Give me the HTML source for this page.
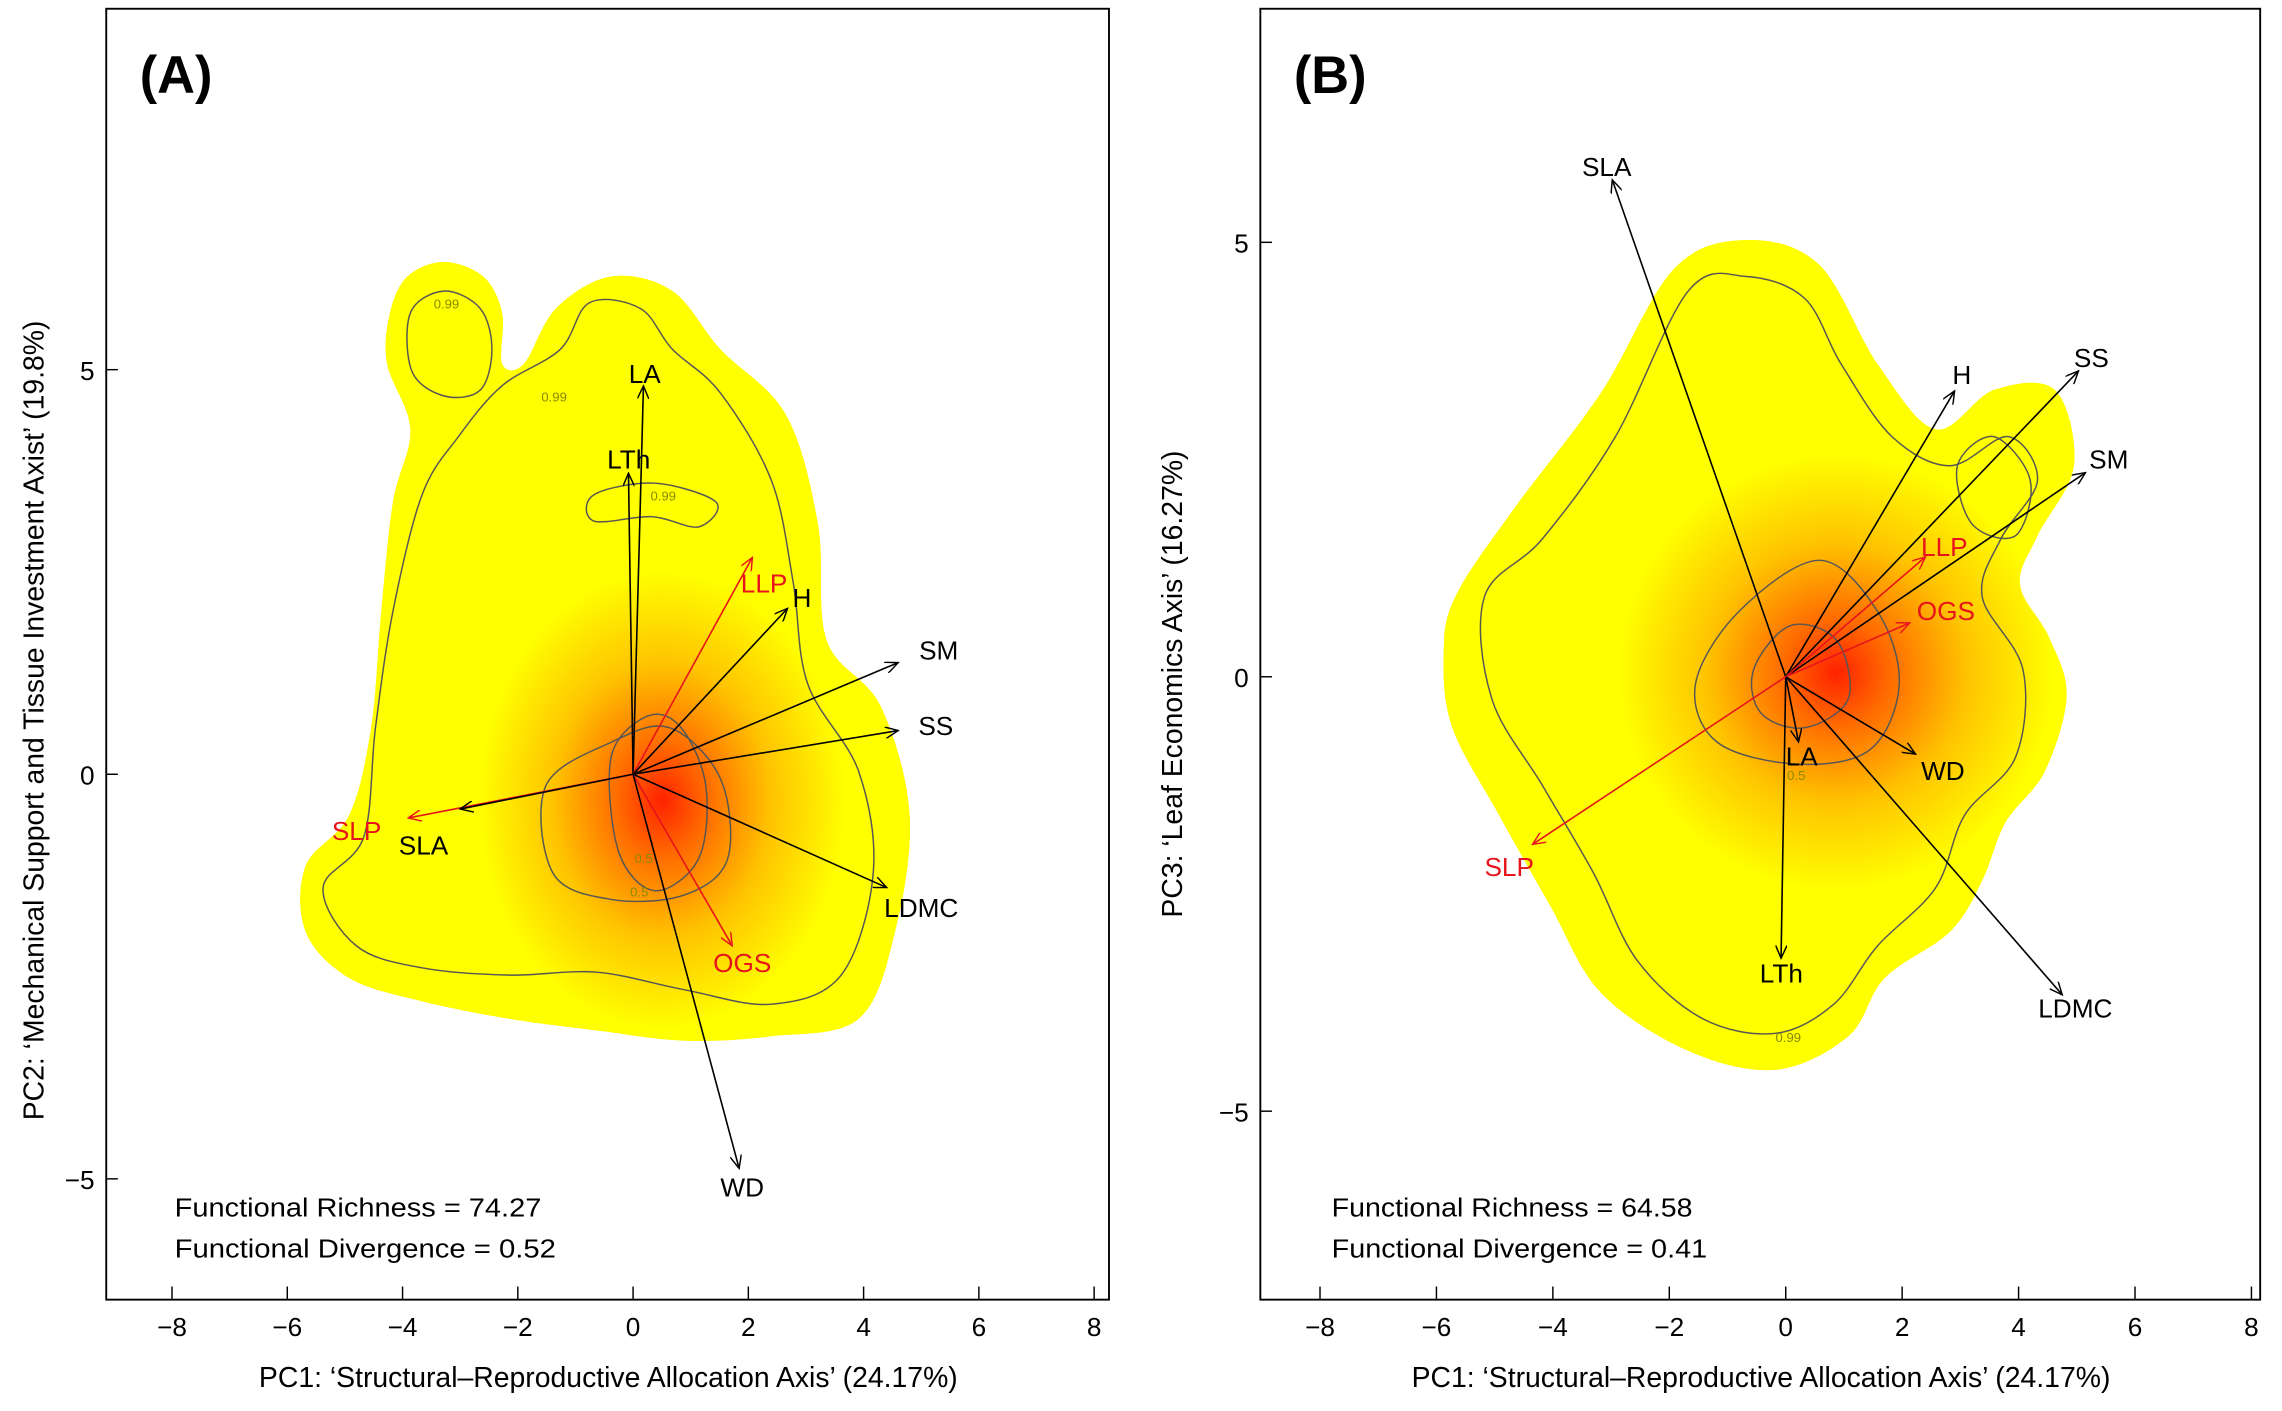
<!DOCTYPE html>
<html><head><meta charset="utf-8"><style>
html,body{margin:0;padding:0;background:#fff;}
svg{display:block;font-family:"Liberation Sans",sans-serif;}
</style></head><body>
<svg id="fig" width="2282" height="1411" viewBox="0 0 1568 969.5" xmlns="http://www.w3.org/2000/svg">
<defs>
<radialGradient id="heatA" cx="455" cy="550" r="210" gradientUnits="userSpaceOnUse" gradientTransform="translate(455 550) scale(0.8 1) translate(-455 -550)">
<stop offset="0" stop-color="#ff2200"/><stop offset="0.18" stop-color="#ff6a00"/><stop offset="0.45" stop-color="#ffc400"/><stop offset="0.75" stop-color="#ffff00"/><stop offset="1" stop-color="#ffff00"/>
</radialGradient>
<radialGradient id="heatB" cx="1262" cy="462" r="200" gradientUnits="userSpaceOnUse">
<stop offset="0" stop-color="#ff2200"/><stop offset="0.18" stop-color="#ff6a00"/><stop offset="0.45" stop-color="#ffc400"/><stop offset="0.75" stop-color="#ffff00"/><stop offset="1" stop-color="#ffff00"/>
</radialGradient>
<marker id="ahK" markerWidth="10" markerHeight="8" refX="9" refY="4" orient="auto" markerUnits="userSpaceOnUse"><path d="M0,0 L9,4 L0,8" fill="none" stroke="#000" stroke-width="1"/></marker>
<marker id="ahR" markerWidth="10" markerHeight="8" refX="9" refY="4" orient="auto" markerUnits="userSpaceOnUse"><path d="M0,0 L9,4 L0,8" fill="none" stroke="#e8141c" stroke-width="1"/></marker>
</defs>
<g id="root"></g>
</svg>
<script>
// Panel A data (PC1 vs PC2)
const traitsA = ["LA","LTh","LLP","H","SM","SS","SLP","SLA","LDMC","OGS","WD"];
const pc1A = [0.18,-0.08,2.07,2.68,4.6,4.6,-3.9,-3.0,4.4,1.72,1.84];
const pc2A = [4.8,3.72,2.68,2.05,1.38,0.54,-0.54,-0.43,-1.4,-2.12,-4.87];
const responseA = [0,0,1,0,0,0,1,0,0,1,0];
// Panel B data (PC1 vs PC3)
const traitsB = ["SLA","H","SS","SM","LLP","OGS","WD","LA","LTh","LDMC","SLP"];
const pc1B = [-2.98,2.9,5.03,5.15,2.4,2.13,2.23,0.22,-0.08,4.75,-4.35];
const pc3B = [5.72,3.29,3.52,2.35,1.38,0.62,-0.89,-0.75,-3.24,-3.66,-1.93];
const responseB = [0,0,0,0,1,1,0,0,0,0,1];
const xTicks = [-8,-6,-4,-2,0,2,4,6,8];
const yTicks = [-5,0,5];
const statsA = ["Functional Richness = 74.27","Functional Divergence = 0.52"];
const statsB = ["Functional Richness = 64.58","Functional Divergence = 0.41"];

const NS="http://www.w3.org/2000/svg";
const root=document.getElementById('root');
function mk(tag,attrs,parent){const e=document.createElementNS(NS,tag);for(const k in attrs)e.setAttribute(k,attrs[k]);(parent||root).appendChild(e);return e;}
function smooth(pts){let d=`M${pts[0][0]},${pts[0][1]}`;const n=pts.length;
 for(let i=0;i<n;i++){const p0=pts[(i-1+n)%n],p1=pts[i],p2=pts[(i+1)%n],p3=pts[(i+2)%n];
  d+=` C${p1[0]+(p2[0]-p0[0])/6},${p1[1]+(p2[1]-p0[1])/6} ${p2[0]-(p3[0]-p1[0])/6},${p2[1]-(p3[1]-p1[1])/6} ${p2[0]},${p2[1]}`;}
 return d+'Z';}

function panel(cfg){
 const g=mk('g',{});
 
 
 const sx=v=>cfg.x0+v*cfg.kx, sy=v=>cfg.y0-v*cfg.ky;
 const clipId='clip'+cfg.id;
 const cp=mk('clipPath',{id:clipId},g);
 mk('path',{d:cfg.blob},cp);
 const blob=mk('path',{d:cfg.blob,fill:'#ffff00'},g);
 
 
 mk('rect',{x:cfg.L,y:cfg.T,width:cfg.R-cfg.L,height:cfg.B-cfg.T,fill:`url(#heat${cfg.id})`,'clip-path':`url(#${clipId})`},g);
 cfg.contours.forEach(c=>{const p=mk('path',{d:c,fill:'none',stroke:'#555','stroke-width':1},g);
  
  });
 cfg.clabels.forEach(c=>{const t=mk('text',{x:c[0],y:c[1],'font-size':9,fill:'#8a8a00'},g);t.textContent=c[2];});
 const fr=mk('rect',{x:cfg.L,y:cfg.T,width:cfg.R-cfg.L,height:cfg.B-cfg.T,fill:'none',stroke:'#000','stroke-width':1.3},g);
 
 
 xTicks.forEach(v=>{mk('line',{x1:sx(v),x2:sx(v),y1:cfg.B,y2:cfg.B-9,stroke:'#000'},g);
  const t=mk('text',{x:sx(v),y:cfg.B+25,'font-size':18,'text-anchor':'middle'},g);t.textContent=(v<0?'\u2212'+(-v):v);
  
  });
 yTicks.forEach(v=>{mk('line',{x1:cfg.L,x2:cfg.L+8,y1:sy(v),y2:sy(v),stroke:'#000'},g);
  const t=mk('text',{x:cfg.L-8,y:sy(v)+7,'font-size':18,'text-anchor':'end'},g);t.textContent=(v<0?'\u2212'+(-v):v);
  
  });
 cfg.traits.forEach((n,i)=>{const red=cfg.resp[i];
  const ln=mk('line',{x1:sx(0),y1:sy(0),x2:sx(cfg.xs[i]),y2:sy(cfg.ys[i]),stroke:red?'#e8141c':'#000','stroke-width':1.1,'marker-end':red?'url(#ahR)':'url(#ahK)'},g);
  
  
  const lp=cfg.lab[n];
  const t=mk('text',{x:lp[0],y:lp[1]+7,'font-size':18,'text-anchor':'middle',fill:red?'#e8141c':'#000'},g);
  t.textContent=n;
  
  });
 const pl=mk('text',{x:cfg.L+23,y:cfg.T+58,'font-size':36,'font-weight':'bold'},g);pl.textContent=cfg.tag;
 
 
 cfg.stats.forEach((s,i)=>{const t=mk('text',{x:cfg.statX,y:cfg.statY+i*28,'font-size':17.5,textLength:cfg.statW[i],lengthAdjust:'spacingAndGlyphs'},g);t.textContent=s;
  
  });
 const xt=mk('text',{x:cfg.xtX,y:953,'font-size':19.5,'text-anchor':'middle'},g);xt.textContent="PC1: \u2018Structural\u2013Reproductive Allocation Axis\u2019 (24.17%)";
 
 
 const yt=mk('text',{x:0,y:0,'font-size':19.5,'text-anchor':'middle',transform:`translate(${cfg.ytX},${cfg.ytY}) rotate(-90)`},g);yt.textContent=cfg.ytitle;
 
 
}

const blobA=smooth([[268,215],[280,190],[305,180],[332,190],[345,215],[345,250],[360,250],[382,212],[420,190],[462,200],[495,240],[540,285],[562,360],[568,440],[605,485],[625,560],[615,640],[590,700],[530,712],[470,715],[410,708],[350,700],[290,688],[240,672],[210,640],[210,595],[240,560],[255,500],[262,420],[270,345],[282,295],[266,250]]);
const contA=[
 smooth([[282,215],[305,200],[330,212],[338,240],[330,268],[305,272],[283,255]]),
 smooth([[345,265],[385,240],[405,208],[440,212],[462,240],[495,270],[530,330],[545,400],[555,470],[590,530],[600,600],[578,670],[530,690],[470,680],[410,668],[350,670],[290,665],[245,650],[222,610],[250,575],[258,500],[270,420],[290,340],[315,300]]),
 smooth([[408,340],[450,332],[492,345],[480,362],[448,355],[408,358]]),
 smooth([[375,540],[420,510],[460,500],[495,535],[500,590],[470,615],[420,618],[380,600]]),
 smooth([[420,520],[445,492],[468,500],[485,540],[480,590],[450,612],[425,585]])
];
const blobB=smooth([[1000,410],[1040,350],[1100,270],[1150,185],[1200,165],[1250,182],[1290,250],[1330,295],[1370,268],[1412,268],[1425,320],[1400,368],[1388,402],[1408,438],[1420,478],[1405,530],[1378,565],[1362,605],[1340,640],[1295,672],[1270,712],[1220,735],[1160,722],[1100,682],[1065,622],[1030,560],[998,500],[992,450]]);
const contB=[
 smooth([[1020,410],[1060,370],[1110,300],[1160,200],[1200,190],[1240,205],[1265,250],[1300,300],[1340,320],[1380,300],[1400,330],[1375,370],[1362,410],[1390,460],[1385,520],[1350,560],[1330,610],[1290,650],[1260,690],[1220,710],[1170,700],[1125,660],[1095,600],[1060,540],[1025,480]]),
 smooth([[1345,320],[1370,300],[1395,330],[1385,368],[1355,360]]),
 smooth([[1165,470],[1195,420],[1250,385],[1290,420],[1305,470],[1285,515],[1235,525],[1180,510]]),
 smooth([[1205,460],[1230,430],[1262,440],[1270,480],[1240,500],[1210,490]])
];
panel({id:'A',name:'panel-a',tag:'(A)',L:73,R:762,T:6,B:893,x0:435,y0:532,kx:39.6,ky:55.6,
 traits:traitsA,xs:pc1A,ys:pc2A,resp:responseA,blob:blobA,contours:contA,
 clabels:[[298,212,'0.99'],[372,276,'0.99'],[447,344,'0.99'],[433,616,'0.5'],[436,593,'0.5']],
 lab:{LA:[443,256],LTh:[432,315],LLP:[525,400],H:[551,410],SM:[645,446],SS:[643,498],SLP:[245,570],SLA:[291,580],LDMC:[633,623],OGS:[510,661],WD:[510,815]},
 stats:statsA,statX:120,statY:836,statW:[252,262],xtX:418,ytX:30,ytY:495,ytitle:"PC2: \u2018Mechanical Support and Tissue Investment Axist\u2019 (19.8%)"});
panel({id:'B',name:'panel-b',tag:'(B)',L:866,R:1553,T:6,B:893,x0:1227,y0:465,kx:40,ky:59.7,
 traits:traitsB,xs:pc1B,ys:pc3B,resp:responseB,blob:blobB,contours:contB,
 clabels:[[1220,716,'0.99'],[1228,536,'0.5']],
 lab:{SLA:[1104,114],H:[1348,257],SS:[1437,245],SM:[1449,315],LLP:[1336,375],OGS:[1337,419],WD:[1335,529],LA:[1238,519],LTh:[1224,668],LDMC:[1426,692],SLP:[1037,595]},
 stats:statsB,statX:915,statY:836,statW:[248,258],xtX:1210,ytX:812,ytY:470,ytitle:"PC3: \u2018Leaf Economics Axis\u2019 (16.27%)"});
</script>
</body></html>
